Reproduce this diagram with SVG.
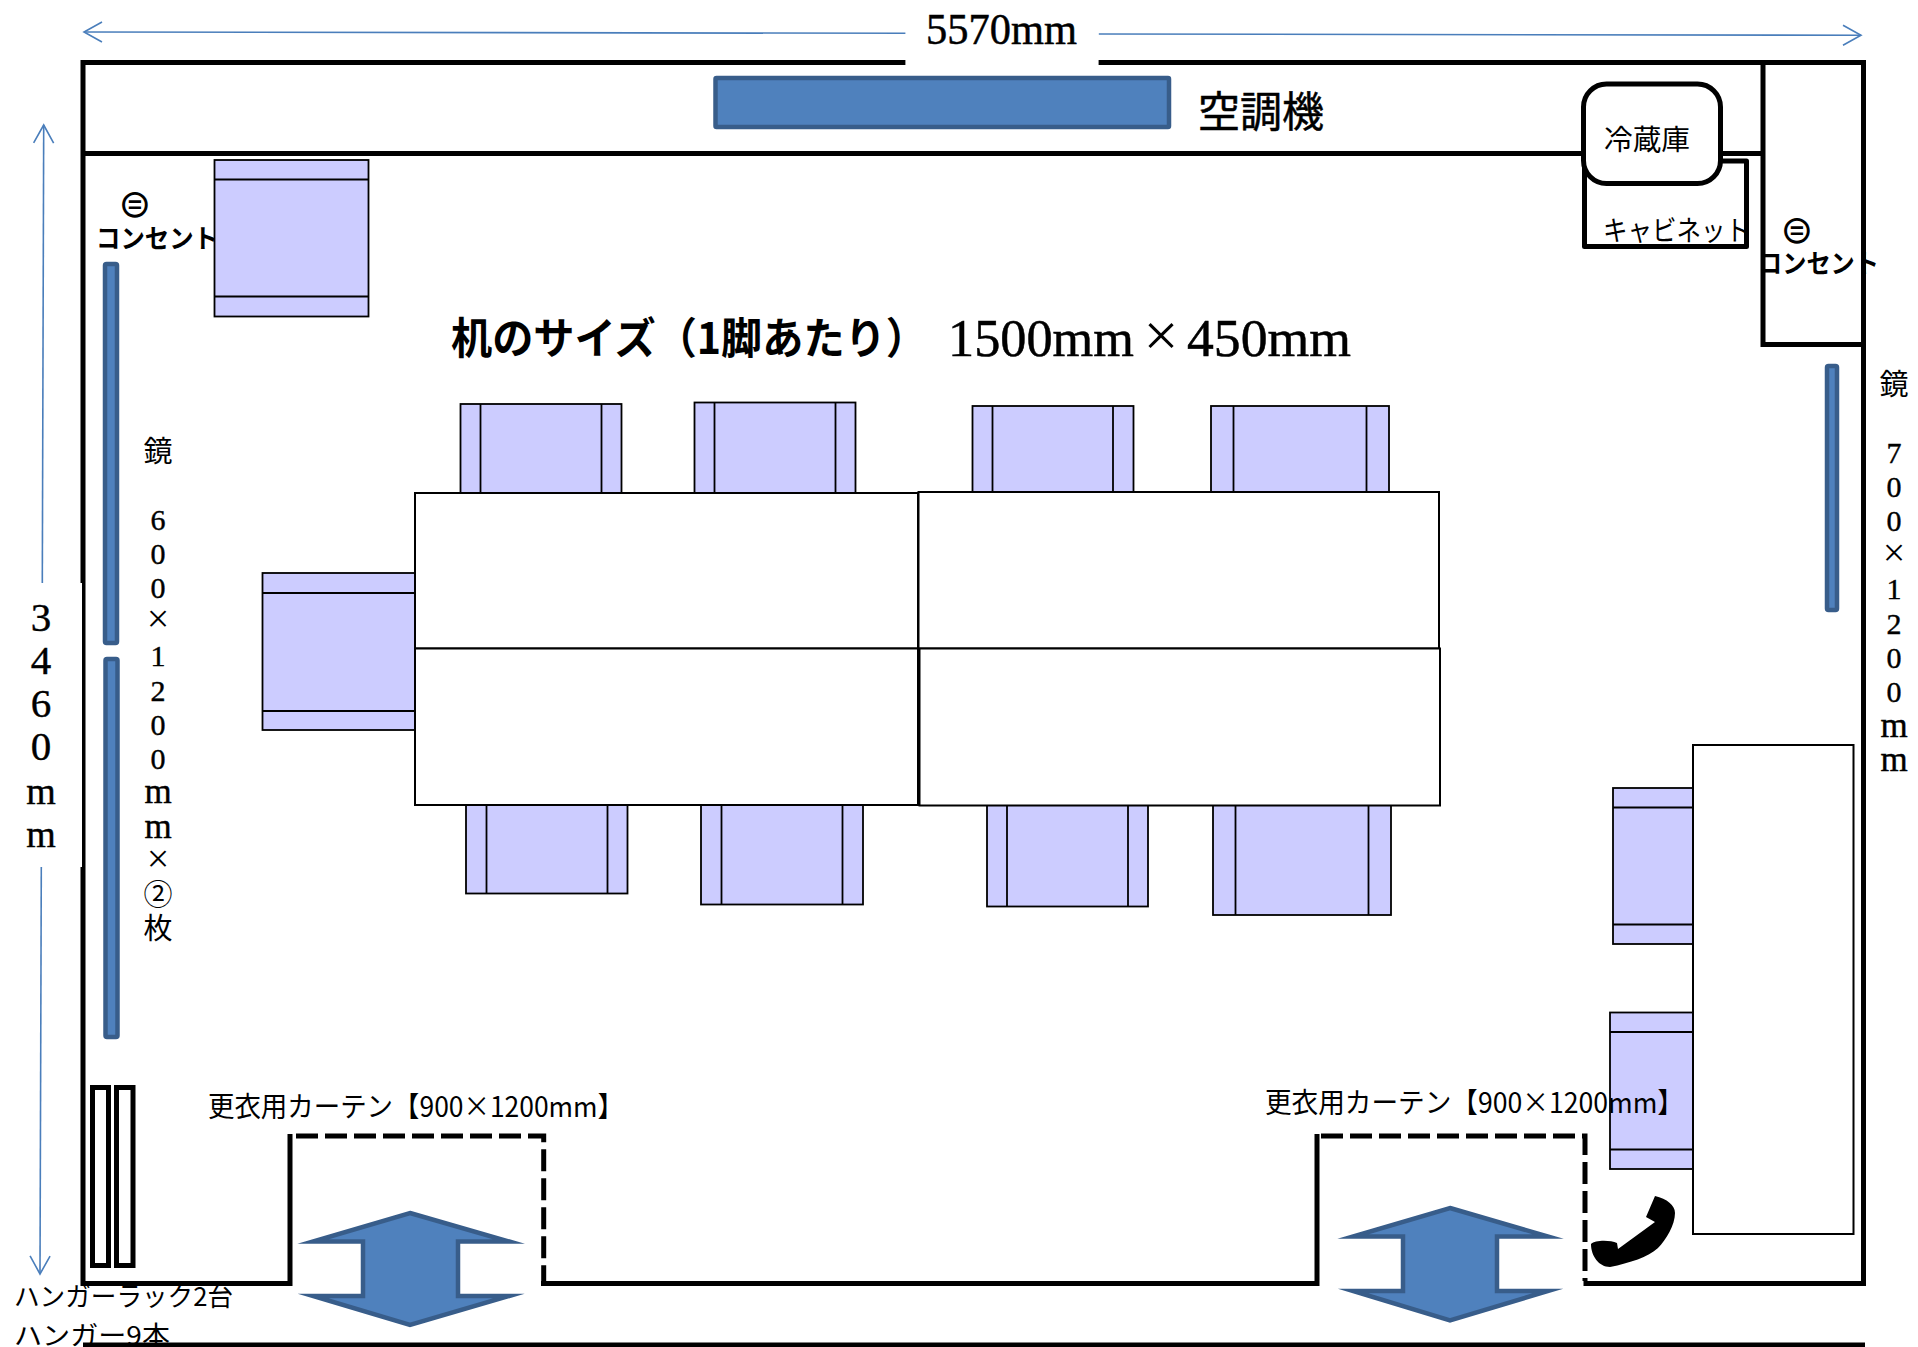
<svg xmlns="http://www.w3.org/2000/svg" width="1918" height="1347" viewBox="0 0 1918 1347">
<defs>
<marker id="open" markerUnits="userSpaceOnUse" markerWidth="24" markerHeight="26" refX="20" refY="12" orient="auto-start-reverse" overflow="visible"><path d="M2,2 L20,12 L2,22" fill="none" stroke="#4a7ebb" stroke-width="1.6"/></marker>
</defs>
<style>
.wall{fill:none;stroke:#000;stroke-width:5}
.dash{fill:none;stroke:#000;stroke-width:5;stroke-dasharray:22 7}
.blue{fill:#4f81bd;stroke:#385d8a;stroke-width:4.5;stroke-miterlimit:12}
.chair rect{fill:#ccccff;stroke:#000;stroke-width:1.8}
.chair line{stroke:#000;stroke-width:1.8}
.desk{fill:#fff;stroke:#000;stroke-width:2}
.dim{fill:none;stroke:#4a7ebb;stroke-width:1.6}
.serif{font-family:"Liberation Serif","Noto Sans CJK JP",serif;fill:#000;stroke:#000;stroke-width:.5}
.jp{font-family:"Noto Sans CJK JP",sans-serif;fill:#000}
.jpb{font-family:"Noto Sans CJK JP",sans-serif;fill:#000;font-weight:700}
.col{font-family:"Liberation Serif","Noto Sans CJK JP",serif;fill:#000;font-size:30px;stroke:#000;stroke-width:.4}
.k{font-family:"Noto Sans CJK JP",sans-serif;font-size:29px}
.m{font-size:35px}
.x{font-size:40px;stroke-width:0}
</style>
<rect width="1918" height="1347" fill="#fff"/>

<g id="walls">
<path class="wall" d="M290,1134 V1283.5 H83 V62.5 H905.4 M1098.6,62.5 H1863.5 V1283.5 H1583.5 M1317,1134 V1283.5 H541"/>
<path class="wall" d="M83,153.5 H1763 M1763,62.5 V344.5 H1863"/>
<rect x="0" y="583" width="82" height="284" fill="#fff"/>
<path class="wall" d="M83,1345 H1865"/>
<path class="dash" d="M296,1136 H543.7 V1281"/>
<path class="dash" d="M1321,1136 H1585 V1281"/>
</g>

<g id="chair-topleft" class="chair"><rect x="214.5" y="160" width="154" height="156.5"/><line x1="214.5" y1="179.5" x2="368.5" y2="179.5"/><line x1="214.5" y1="296.5" x2="368.5" y2="296.5"/></g>
<g id="chair-top1" class="chair"><rect x="460.5" y="404" width="161" height="90"/><line x1="480.5" y1="404" x2="480.5" y2="493"/><line x1="601.5" y1="404" x2="601.5" y2="493"/></g>
<g id="chair-top2" class="chair"><rect x="694.5" y="402.5" width="161" height="91"/><line x1="714.5" y1="402.5" x2="714.5" y2="493"/><line x1="835.5" y1="402.5" x2="835.5" y2="493"/></g>
<g id="chair-top3" class="chair"><rect x="972.5" y="406" width="161" height="87"/><line x1="992.5" y1="406" x2="992.5" y2="492"/><line x1="1113" y1="406" x2="1113" y2="492"/></g>
<g id="chair-top4" class="chair"><rect x="1211" y="406" width="178" height="87"/><line x1="1233.5" y1="406" x2="1233.5" y2="492"/><line x1="1366.5" y1="406" x2="1366.5" y2="492"/></g>
<g id="chair-left" class="chair"><rect x="262.5" y="573" width="153" height="157"/><line x1="262.5" y1="593" x2="415" y2="593"/><line x1="262.5" y1="711" x2="415" y2="711"/></g>
<g id="chair-bottom1" class="chair"><rect x="466" y="804" width="161.5" height="89.5"/><line x1="486.5" y1="804" x2="486.5" y2="893.5"/><line x1="607.5" y1="804" x2="607.5" y2="893.5"/></g>
<g id="chair-bottom2" class="chair"><rect x="701" y="804" width="162" height="100.5"/><line x1="721.5" y1="804" x2="721.5" y2="904.5"/><line x1="842.5" y1="804" x2="842.5" y2="904.5"/></g>
<g id="chair-bottom3" class="chair"><rect x="987" y="804" width="161" height="102.5"/><line x1="1007" y1="804" x2="1007" y2="906.5"/><line x1="1128" y1="804" x2="1128" y2="906.5"/></g>
<g id="chair-bottom4" class="chair"><rect x="1213" y="804" width="178" height="111"/><line x1="1235.5" y1="804" x2="1235.5" y2="915"/><line x1="1368.5" y1="804" x2="1368.5" y2="915"/></g>
<g id="chair-right1" class="chair"><rect x="1613" y="788" width="80" height="156"/><line x1="1613" y1="807.5" x2="1693" y2="807.5"/><line x1="1613" y1="924.5" x2="1693" y2="924.5"/></g>
<g id="chair-right2" class="chair"><rect x="1610" y="1012.5" width="83" height="156.5"/><line x1="1610" y1="1032" x2="1693" y2="1032"/><line x1="1610" y1="1149.5" x2="1693" y2="1149.5"/></g>

<g id="desk-1"><rect class="desk" x="415" y="493" width="503" height="155.5"/></g>
<g id="desk-2"><rect class="desk" x="415" y="648.5" width="503" height="156.5"/></g>
<g id="desk-3"><rect class="desk" x="918.5" y="492" width="520.5" height="156.5"/></g>
<g id="desk-4"><rect class="desk" x="919.5" y="648.5" width="520.5" height="157"/></g>
<g id="desk-side"><rect class="desk" x="1693" y="745" width="160.5" height="489"/></g>

<g id="aircon"><rect class="blue" x="715.5" y="78" width="453.5" height="49" rx="1"/><text class="serif" x="1198" y="127" font-size="42">空調機</text></g>
<g id="mirror-left-1"><rect class="blue" x="105" y="264" width="12" height="379" rx="1.5"/></g>
<g id="mirror-left-2"><rect class="blue" x="105.5" y="659" width="12" height="378" rx="1.5"/></g>
<g id="mirror-right"><rect class="blue" x="1827" y="366" width="10" height="244" rx="1.5"/></g>

<g id="cabinet"><rect x="1584.5" y="161" width="162" height="85.5" fill="#fff" stroke="#000" stroke-width="5" stroke-linejoin="round"/><text class="jp" x="1603" y="241" font-size="28" textLength="147" lengthAdjust="spacingAndGlyphs">キャビネット</text></g>
<g id="fridge"><rect x="1583.5" y="84" width="137" height="99.5" rx="23" fill="#fff" stroke="#000" stroke-width="5"/><text class="jp" x="1604" y="150" font-size="28" textLength="86" lengthAdjust="spacingAndGlyphs">冷蔵庫</text></g>

<g id="hanger-rack"><rect class="wall" x="92.5" y="1087.5" width="16" height="178"/><rect class="wall" x="116.5" y="1087.5" width="16.5" height="178"/><text class="jp" x="14" y="1306" font-size="26" textLength="219" lengthAdjust="spacingAndGlyphs">ハンガーラック2台</text><text class="jp" x="14" y="1345" font-size="26" textLength="156" lengthAdjust="spacingAndGlyphs">ハンガー9本</text></g>

<g id="door-left"><polygon class="blue" points="410,1213 509,1241.5 458,1241.5 458,1296 509,1296 410,1325 313,1296 363,1296 363,1241.5 313,1241.5"/><text class="jp" x="208" y="1117" font-size="28" textLength="416" lengthAdjust="spacingAndGlyphs">更衣用カーテン【900×1200mm】</text></g>
<g id="door-right"><polygon class="blue" points="1450,1208 1548,1236.5 1497,1236.5 1497,1291 1548,1291 1450,1320.5 1353,1291 1403,1291 1403,1236.5 1353,1236.5"/><text class="jp" x="1265" y="1113" font-size="28" textLength="419" lengthAdjust="spacingAndGlyphs">更衣用カーテン【900×1200mm】</text></g>

<g id="phone"><path fill="#000" d="M1655,1196 C1667,1199 1675,1205 1675,1213 C1675,1225 1666,1240 1658,1248 C1648,1257 1630,1263 1610,1267 C1599,1267 1591,1256 1591,1244 C1595,1240 1610,1240 1617,1243 L1618,1249 L1655,1222 L1646,1217 Z"/></g>

<g id="outlet-left"><text x="135" y="217" font-family="DejaVu Sans,sans-serif" font-size="39" text-anchor="middle">⊜</text><text class="jpb" x="96" y="248" font-size="26" textLength="122" lengthAdjust="spacingAndGlyphs">コンセント</text></g>
<g id="outlet-right"><text x="1797" y="243" font-family="DejaVu Sans,sans-serif" font-size="39" text-anchor="middle">⊜</text><text class="jpb" x="1758" y="273" font-size="26" textLength="121" lengthAdjust="spacingAndGlyphs">コンセント</text></g>

<g id="desk-size-label">
<text class="jpb" x="451" y="354" font-size="43" textLength="476" lengthAdjust="spacingAndGlyphs">机のサイズ（1脚あたり）</text>
<text class="serif" x="948" y="356" font-size="52" textLength="186" lengthAdjust="spacingAndGlyphs">1500mm</text>
<text class="serif" x="1161" y="356" font-size="62" text-anchor="middle" style="stroke-width:0">×</text>
<text class="serif" x="1187" y="356" font-size="52" textLength="164" lengthAdjust="spacingAndGlyphs">450mm</text>
</g>

<g id="mirror-left-label" class="col" text-anchor="middle">
<text class="k" x="158" y="462" style="stroke-width:0">鏡</text>
<text x="158" y="530">6</text><text x="158" y="564">0</text><text x="158" y="598">0</text>
<text class="x" x="158" y="632">×</text>
<text x="158" y="666">1</text><text x="158" y="701">2</text><text x="158" y="735">0</text><text x="158" y="769">0</text>
<text class="m" x="158" y="803">m</text><text class="m" x="158" y="838">m</text>
<text class="x" x="158" y="872">×</text>
<text class="k" x="158" y="905" style="stroke-width:0">②</text><text class="k" x="158" y="939" style="stroke-width:0">枚</text>
</g>
<g id="mirror-right-label" class="col" text-anchor="middle">
<text class="k" x="1894" y="395" style="stroke-width:0">鏡</text>
<text x="1894" y="463">7</text><text x="1894" y="497">0</text><text x="1894" y="531">0</text>
<text class="x" x="1894" y="566">×</text>
<text x="1894" y="599">1</text><text x="1894" y="634">2</text><text x="1894" y="668">0</text><text x="1894" y="702">0</text>
<text class="m" x="1894" y="737">m</text><text class="m" x="1894" y="771">m</text>
</g>

<g id="connectors">
<path class="dim" d="M905.4,33.3 L84,32" marker-end="url(#open)"/>
<path class="dim" d="M1098.8,34 L1861,35.3" marker-end="url(#open)"/>
<path class="dim" d="M42.3,583 L43.7,125" marker-end="url(#open)"/>
<path class="dim" d="M41.3,867 L40,1274" marker-end="url(#open)"/>
</g>

<g id="dimension-labels">
<text class="serif" x="926" y="44" font-size="45" textLength="151" lengthAdjust="spacingAndGlyphs">5570mm</text>
<g font-family="Liberation Serif,serif" text-anchor="middle" font-size="41" stroke="#000" stroke-width=".4">
<text x="41" y="631">3</text><text x="41" y="674">4</text><text x="41" y="717">6</text><text x="41" y="760">0</text>
<text x="41" y="804" font-size="38">m</text><text x="41" y="847" font-size="38">m</text>
</g>
</g>
</svg>
